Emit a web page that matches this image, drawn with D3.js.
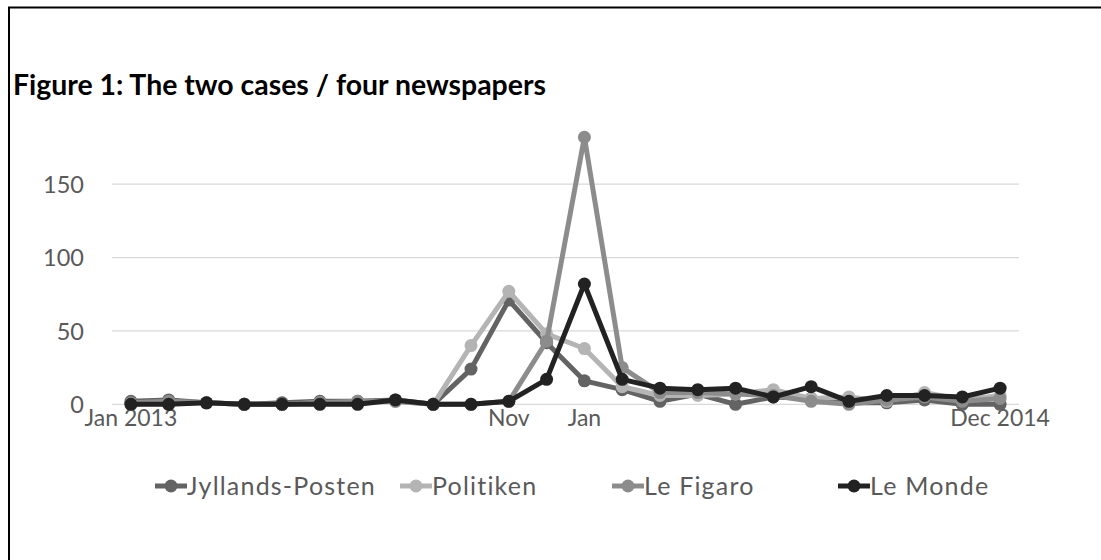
<!DOCTYPE html>
<html><head><meta charset="utf-8">
<script src="https://cdn.jsdelivr.net/npm/d3@7/dist/d3.min.js"></script>
<style>body{margin:0;background:#fff} svg{display:block}</style>
</head><body>
<svg id="c" width="1101" height="560"></svg>
<script>
const months = ["2013-01","2013-02","2013-03","2013-04","2013-05","2013-06","2013-07","2013-08","2013-09","2013-10","2013-11","2013-12",
                "2014-01","2014-02","2014-03","2014-04","2014-05","2014-06","2014-07","2014-08","2014-09","2014-10","2014-11","2014-12"];
const tickLabels = ["Jan 2013","","","","","","","","","","Nov","","Jan","","","","","","","","","","","Dec 2014"];
const seriesNames = ["Jyllands-Posten","Politiken","Le Figaro","Le Monde"];
const jyllandsPosten = [2,3,1,0,1,2,2,3,0,24,71,42,16,10,2,7,0,5,4,1,1,3,0,0];
const politiken      = [0,1,1,0,0,1,1,2,0,40,77,48,38,12,6,6,7,10,4,5,2,8,3,6];
const leFigaro       = [1,2,1,0,0,1,2,2,0,0,2,43,182,25,8,8,7,6,2,0,3,5,2,4];
const leMonde        = [0,0,1,0,0,0,0,3,0,0,2,17,82,17,11,10,11,5,12,2,6,6,5,11];
const yTicks = [0,50,100,150];
const title = "Figure 1: The two cases / four newspapers";

const colors = ["#636363","#b4b4b4","#8c8c8c","#222222"];
const seriesValues = [jyllandsPosten, politiken, leFigaro, leMonde];
const FONT = "Lato, 'Open Sans', sans-serif";

const svg = d3.select("#c");
svg.append("rect").attr("x",0).attr("y",0).attr("width",1101).attr("height",560).attr("fill","#fff");
svg.append("rect").attr("x",9).attr("y",7.5).attr("width",1200).attr("height",700)
  .attr("fill","none").attr("stroke","#000").attr("stroke-width",2);

function fit(sel, target){
  const w = sel.node().getComputedTextLength();
  const fs = parseFloat(sel.attr("font-size"));
  sel.attr("font-size", fs*target/w);
}

const tt = svg.append("text").attr("x",13).attr("y",95).text(title)
  .attr("font-family",FONT).attr("font-weight","bold").attr("font-size",22).attr("fill","#000");
fit(tt, 533);

const x = d3.scaleBand().domain(months).range([112,1019]);
const y = d3.scaleLinear().domain([0,150]).range([404.3,184.2]);
const cx = m => x(m) + x.bandwidth()/2;

svg.append("g").selectAll("line").data(yTicks).join("line")
  .attr("x1",112).attr("x2",1019).attr("y1",d=>y(d)).attr("y2",d=>y(d))
  .attr("stroke","#d9d9d9").attr("stroke-width",1.3);

const yAxis = svg.append("g").attr("transform","translate(112,0)")
  .call(d3.axisLeft(y).tickValues(yTicks).tickSize(0).tickPadding(28));
yAxis.select(".domain").remove();
yAxis.selectAll("text").attr("font-family",FONT).attr("font-size",23.5).attr("fill","#595959").attr("dy","0.35em");

const xAxis = svg.append("g").attr("transform","translate(0,404.3)")
  .call(d3.axisBottom(x).tickFormat((d,i)=>tickLabels[i]).tickSize(0).tickPadding(5));
xAxis.select(".domain").remove();
xAxis.selectAll("text").attr("font-family",FONT).attr("font-size",23).attr("fill","#595959");

const line = d3.line().x((d,i)=>cx(months[i])).y(d=>y(d));
seriesValues.forEach((vals,k)=>{
  const g = svg.append("g");
  g.append("path").attr("d",line(vals)).attr("fill","none").attr("stroke",colors[k])
    .attr("stroke-width",5).attr("stroke-linejoin","round");
  g.selectAll("circle").data(vals).join("circle")
    .attr("cx",(d,i)=>cx(months[i])).attr("cy",d=>y(d)).attr("r",6.5).attr("fill",colors[k]);
});

// legend
const lg = svg.append("g");
const ly = 486;
const legendX = [155, 400, 612, 838];
seriesNames.forEach((name,k)=>{
  const lx = legendX[k];
  lg.append("line").attr("x1",lx).attr("x2",lx+32).attr("y1",ly).attr("y2",ly)
    .attr("stroke",colors[k]).attr("stroke-width",5);
  lg.append("circle").attr("cx",lx+16).attr("cy",ly).attr("r",6.5).attr("fill",colors[k]);
  lg.append("text").attr("x",lx+32).attr("y",ly).attr("dy","0.35em").text(name)
    .attr("font-family",FONT).attr("font-size",25).attr("fill","#595959").attr("letter-spacing",1.2);
});
</script>
</body></html>
